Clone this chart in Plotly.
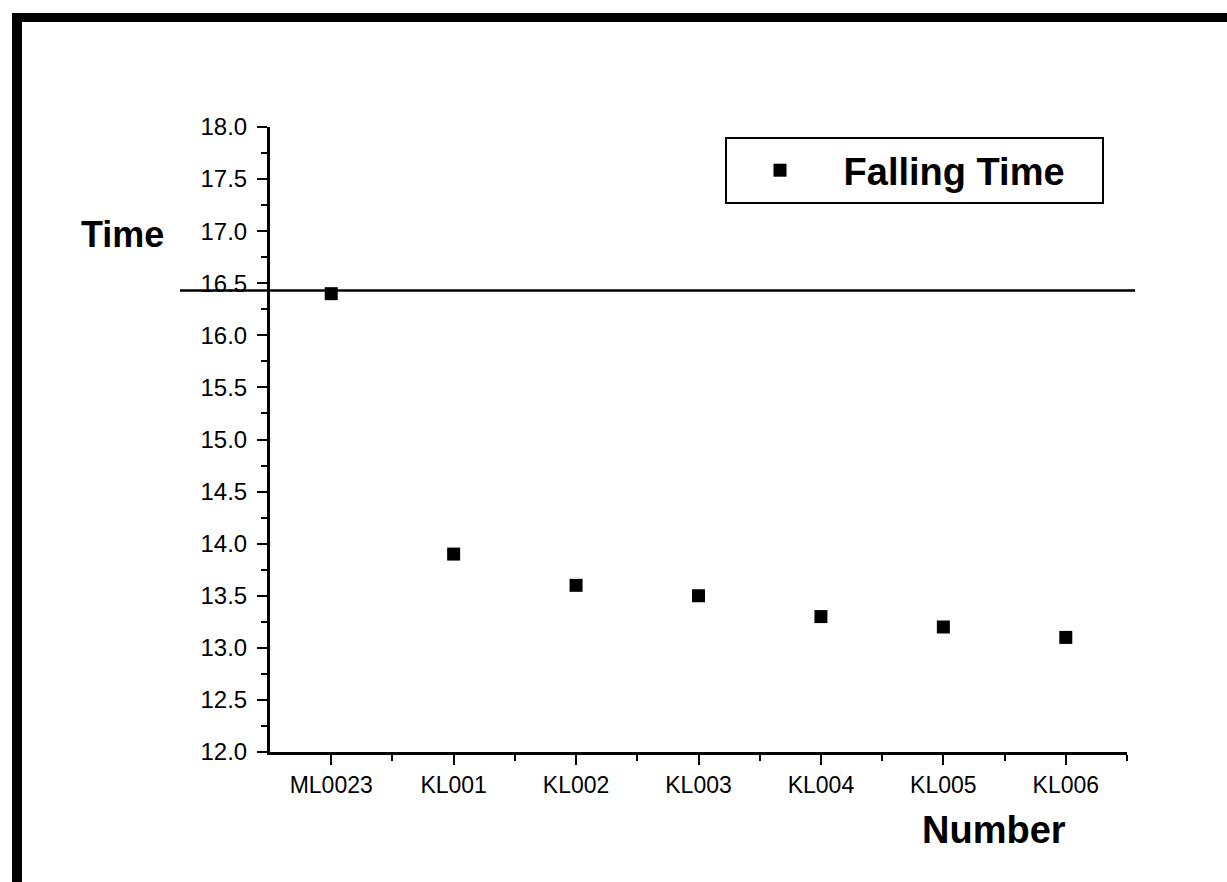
import plotly.graph_objects as go

categories = ["ML0023", "KL001", "KL002", "KL003", "KL004", "KL005", "KL006"]
falling_time = [16.4, 13.9, 13.6, 13.5, 13.3, 13.2, 13.1]
reference_time = 16.43
series_name = "Falling Time"
y_title = "Time"
x_title = "Number"

W, H = 1227, 882
L, R, T, B = 270, 100, 127, 130
pw, ph = W - L - R, H - T - B

def px_x(p):
    return (p - L) / pw

def px_y(p):
    return (H - B - p) / ph

xs = list(range(len(categories)))

fig = go.Figure()
fig.add_trace(go.Scatter(
    x=xs, y=falling_time, mode="markers",
    name="\u00a0" + series_name + "\u00a0\u00a0\u00a0",
    marker=dict(symbol="square", size=13, color="black"),
))

font_family = "Arial, 'Liberation Sans', Helvetica, sans-serif"

fig.update_layout(
    width=W, height=H,
    margin=dict(l=L, r=R, t=T, b=B, pad=0),
    paper_bgcolor="white", plot_bgcolor="white",
    font=dict(family=font_family, color="black", size=23),
    showlegend=True,
    legend=dict(
        x=px_x(725), y=px_y(137), xanchor="left", yanchor="top",
        bordercolor="black", borderwidth=2, bgcolor="white",
        font=dict(size=38, family=font_family, color="black", weight="bold"),
        itemwidth=96,
    ),
    xaxis=dict(
        range=[-0.5, 6.5], tickmode="array", tickvals=xs, ticktext=categories,
        showgrid=False, zeroline=False, showline=True, linecolor="black", linewidth=3,
        ticks="outside", ticklen=10, tickwidth=2, tickcolor="black",
        tickfont=dict(size=23), mirror=False,
        minor=dict(tickvals=[x + 0.5 for x in xs[:-1]] + [6.5], ticks="outside", ticklen=6, tickwidth=2, tickcolor="black"),
    ),
    yaxis=dict(
        range=[12, 18], tickmode="linear", tick0=12, dtick=0.5, tickformat=".1f",
        showgrid=False, zeroline=False, showline=True, linecolor="black", linewidth=3,
        ticks="outside", ticklen=10, tickwidth=2, tickcolor="black",
        tickfont=dict(size=24), mirror=False, ticklabelstandoff=5,
        minor=dict(dtick=0.25, ticks="outside", ticklen=6, tickwidth=2, tickcolor="black"),
    ),
    shapes=[
        dict(type="line", xref="paper", yref="y", x0=px_x(180), x1=px_x(1135),
             y0=reference_time, y1=reference_time, line=dict(color="black", width=2.5)),
        dict(type="rect", xref="paper", yref="paper", x0=px_x(12), x1=px_x(22),
             y0=px_y(900), y1=px_y(13), fillcolor="black", line=dict(width=0)),
        dict(type="rect", xref="paper", yref="paper", x0=px_x(12), x1=px_x(1240),
             y0=px_y(22), y1=px_y(13), fillcolor="black", line=dict(width=0)),
    ],
    annotations=[
        dict(text="<b>" + y_title + "</b>", xref="paper", yref="paper",
             x=px_x(122), y=px_y(235), xanchor="center", yanchor="middle",
             showarrow=False, font=dict(size=36, family=font_family)),
        dict(text="<b>" + x_title + "</b>", xref="paper", yref="paper",
             x=px_x(994), y=px_y(830), xanchor="center", yanchor="middle",
             showarrow=False, font=dict(size=38, family=font_family)),
    ],
)

fig.write_html("out.html", config={"displayModeBar": False},
               post_script="document.body.style.margin='0';document.body.style.overflow='hidden';")
